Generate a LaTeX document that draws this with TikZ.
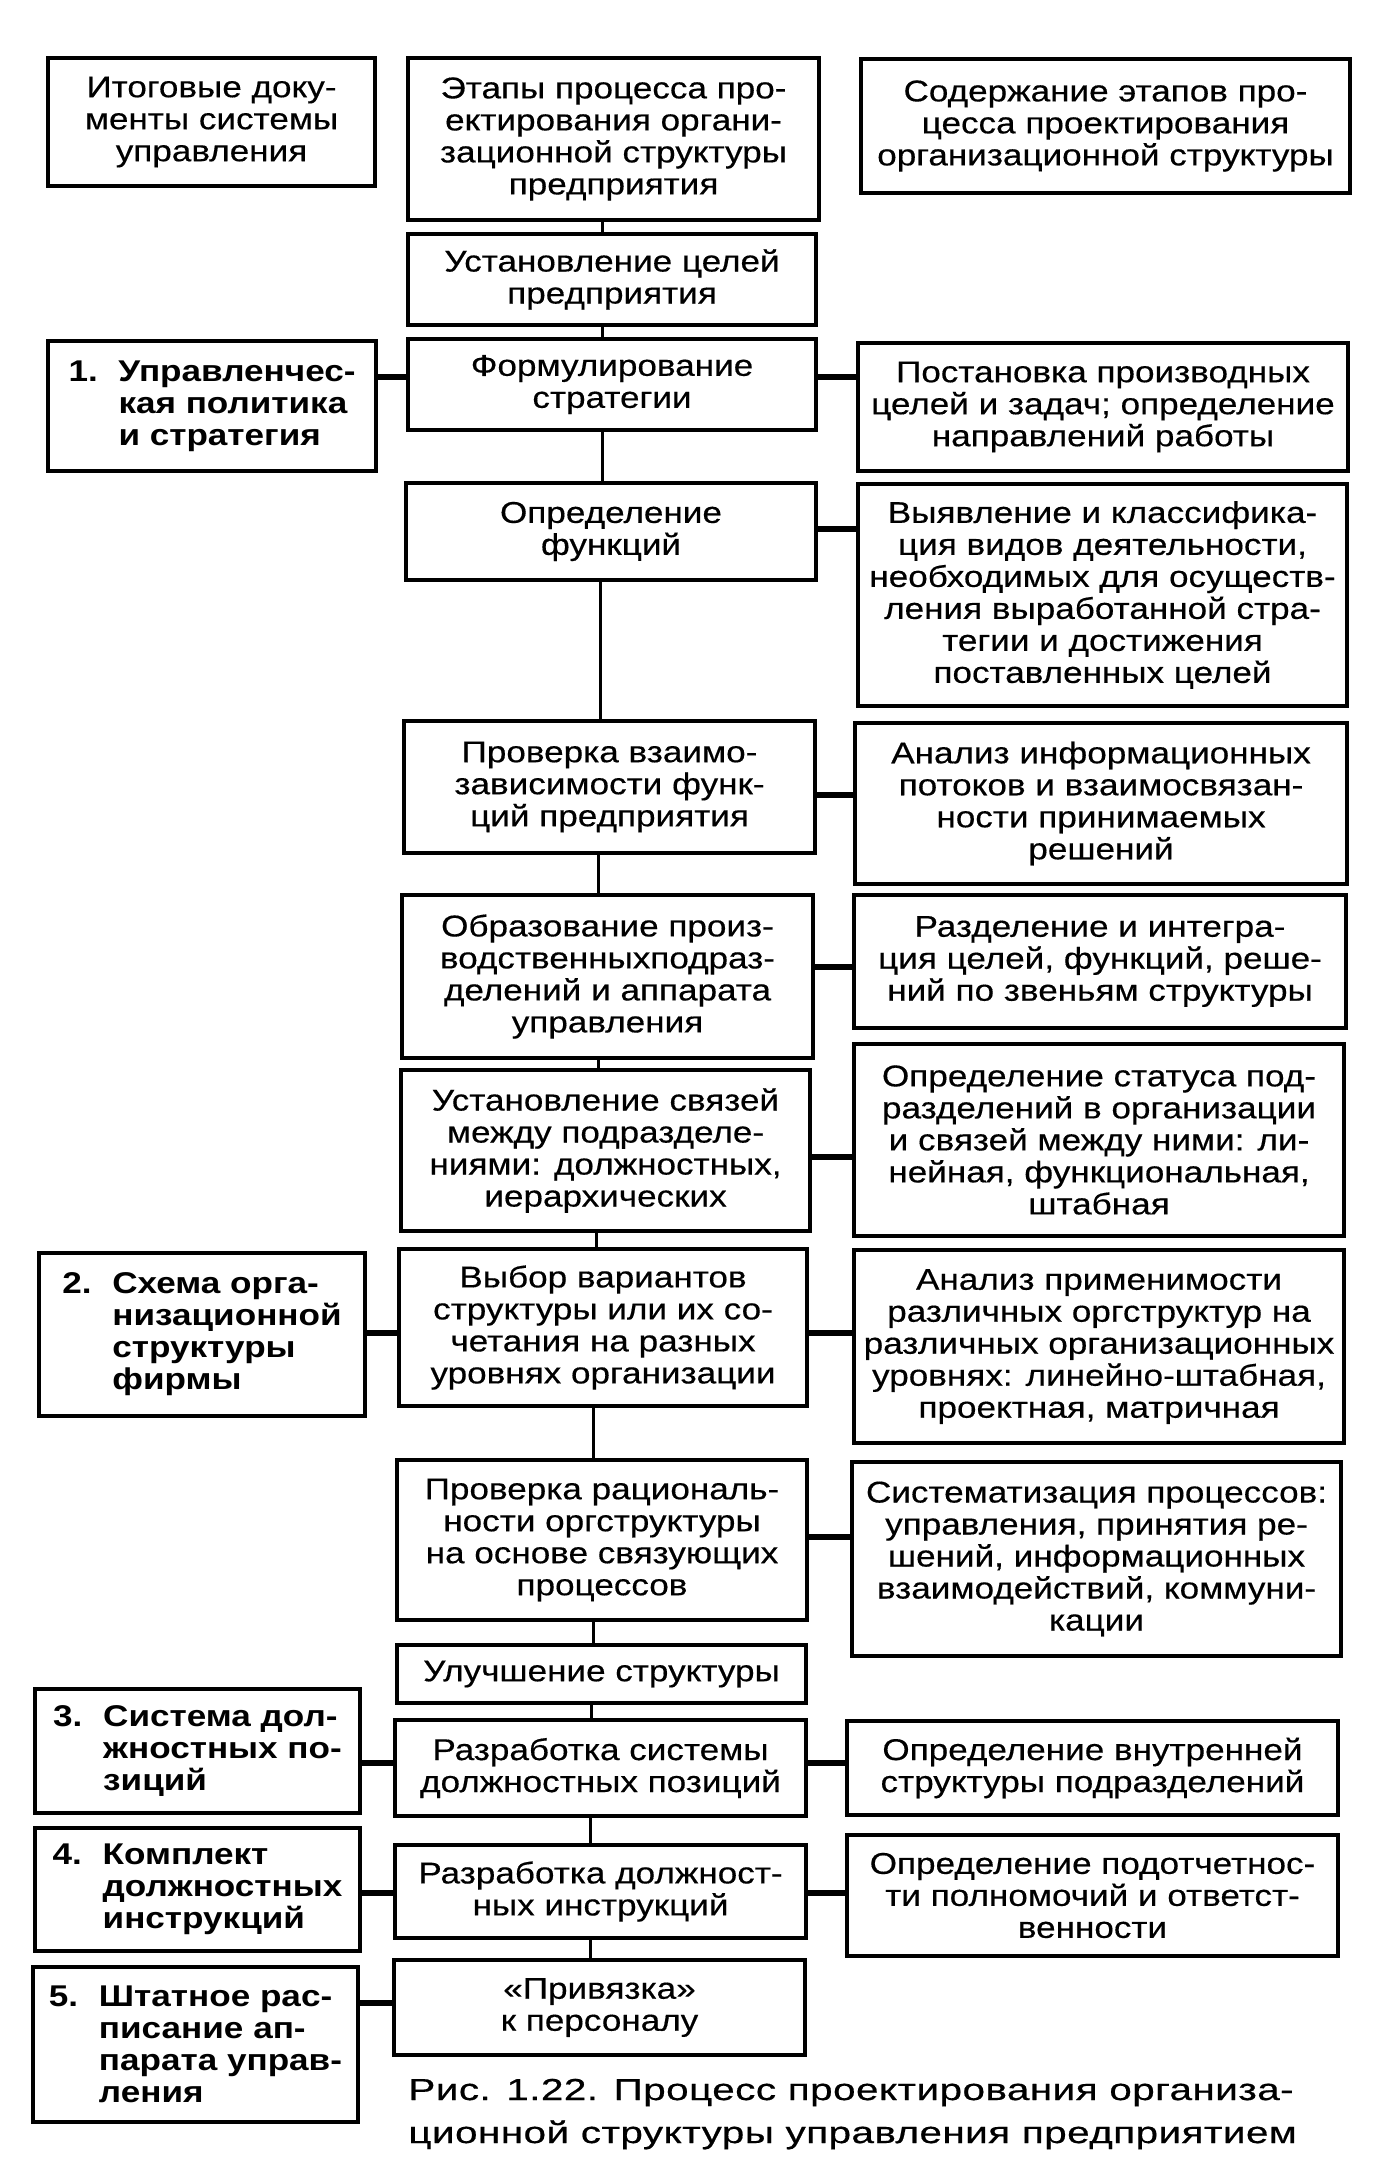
\documentclass[tikz,border=0pt]{standalone}
\usepackage{fontspec}
\setmainfont{Liberation Sans}[FakeStretch=1.17,UprightFeatures={FakeBold=0.4}]
\newfontfamily\capfont{Liberation Sans}[FakeStretch=1.33,LetterSpace=1.5,FakeBold=0.5]
\newcommand\mkbox[7][]{%
  \pgfmathsetmacro\bxw{(#5-#3)*0.5-2}%
  \pgfmathsetmacro\bxh{(#6-#4)*0.5-2}%
  \node[box,minimum width=\bxw pt,minimum height=\bxh pt,#1] (#2) at ({(#3+#5)/2},{(#4+#6)/2}) {#7};}
\newcommand\hd[1]{\makebox[25pt][l]{#1}}
\newcommand\hi{\hspace*{25pt}}
\begin{document}
\begin{tikzpicture}[x=0.5pt,y=-0.5pt,
  box/.style={draw=black,line width=2pt,inner sep=0pt,align=center,
    font={\fontsize{15pt}{16pt}\selectfont}},
  lbox/.style={box,align=left,font={\fontsize{15pt}{16pt}\selectfont\bfseries}},
  hconn/.style={draw=black,line width=3pt},
  vconn/.style={draw=black,line width=1.5pt}]
\fill[white] (0,0) rectangle (1375,2168);
\useasboundingbox (0,0) rectangle (1375,2168);

% left column
\mkbox{L0}{46}{56}{377}{188}{Итоговые доку-\\менты системы\\управления}
\mkbox[lbox]{L1}{46}{339}{378}{473}{\hd{1.}Управленчес-\\\hi кая политика\\\hi и стратегия}
\mkbox[lbox]{L2}{37}{1251}{367}{1418}{\hd{2.}Схема орга-\\\hi низационной\\\hi структуры\\\hi фирмы}
\mkbox[lbox]{L3}{33}{1687}{362}{1815}{\hd{3.}Система дол-\\\hi жностных по-\\\hi зиций}
\mkbox[lbox]{L4}{33}{1826}{362}{1953}{\hd{4.}Комплект\\\hi должностных\\\hi инструкций}
\mkbox[lbox]{L5}{31}{1965}{360}{2124}{\hd{5.}Штатное рас-\\\hi писание ап-\\\hi парата управ-\\\hi ления}

% center column
\mkbox{C0}{406}{56}{821}{222}{Этапы процесса про-\\ектирования органи-\\зационной структуры\\предприятия}
\mkbox{C1}{406}{232}{818}{327}{Установление целей\\предприятия}
\mkbox{C2}{406}{337}{818}{432}{Формулирование\\стратегии}
\mkbox{C3}{404}{481}{818}{582}{Определение\\функций}
\mkbox{C4}{402}{719}{817}{855}{Проверка взаимо-\\зависимости функ-\\ций предприятия}
\mkbox{C5}{400}{893}{815}{1060}{Образование произ-\\водственныхподраз-\\делений и аппарата\\управления}
\mkbox{C6}{399}{1068}{812}{1233}{Установление связей\\между подразделе-\\ниями: должностных,\\иерархических}
\mkbox{C7}{397}{1247}{809}{1408}{Выбор вариантов\\структуры или их со-\\четания на разных\\уровнях организации}
\mkbox{C8}{395}{1458}{809}{1622}{Проверка рациональ-\\ности оргструктуры\\на основе связующих\\процессов}
\mkbox{C9}{395}{1643}{808}{1705}{Улучшение структуры}
\mkbox{C10}{393}{1718}{808}{1818}{Разработка системы\\должностных позиций}
\mkbox{C11}{393}{1843}{808}{1940}{Разработка должност-\\ных инструкций}
\mkbox{C12}{392}{1958}{807}{2057}{«Привязка»\\к персоналу}

% right column
\mkbox{R0}{859}{57}{1352}{195}{Содержание этапов про-\\цесса проектирования\\организационной структуры}
\mkbox{R1}{856}{341}{1350}{473}{Постановка производных\\целей и задач; определение\\направлений работы}
\mkbox{R2}{856}{482}{1349}{708}{Выявление и классифика-\\ция видов деятельности,\\необходимых для осуществ-\\ления выработанной стра-\\тегии и достижения\\поставленных целей}
\mkbox{R3}{853}{721}{1349}{886}{Анализ информационных\\потоков и взаимосвязан-\\ности принимаемых\\решений}
\mkbox{R4}{852}{893}{1348}{1030}{Разделение и интегра-\\ция целей, функций, реше-\\ний по звеньям структуры}
\mkbox{R5}{852}{1042}{1346}{1238}{Определение статуса под-\\разделений в организации\\и связей между ними: ли-\\нейная, функциональная,\\штабная}
\mkbox{R6}{852}{1248}{1346}{1445}{Анализ применимости\\различных оргструктур на\\различных организационных\\уровнях: линейно-штабная,\\проектная, матричная}
\mkbox{R7}{850}{1460}{1343}{1658}{Систематизация процессов:\\управления, принятия ре-\\шений, информационных\\взаимодействий, коммуни-\\кации}
\mkbox{R8}{845}{1719}{1340}{1817}{Определение внутренней\\структуры подразделений}
\mkbox{R9}{845}{1833}{1340}{1958}{Определение подотчетнос-\\ти полномочий и ответст-\\венности}

% spine
\coordinate (sa) at (602,0);
\coordinate (sb) at (600,0);
\coordinate (sc) at (598,0);
\coordinate (sd) at (596,0);
\coordinate (se) at (593,0);
\coordinate (sf) at (591,0);
\coordinate (sg) at (590,0);
\draw[vconn] (C0.south -| sa) -- (C1.north -| sa);
\draw[vconn] (C1.south -| sa) -- (C2.north -| sa);
\draw[vconn] (C2.south -| sa) -- (C3.north -| sa);
\draw[vconn] (C3.south -| sb) -- (C4.north -| sb);
\draw[vconn] (C4.south -| sc) -- (C5.north -| sc);
\draw[vconn] (C5.south -| sc) -- (C6.north -| sc);
\draw[vconn] (C6.south -| sd) -- (C7.north -| sd);
\draw[vconn] (C7.south -| se) -- (C8.north -| se);
\draw[vconn] (C8.south -| se) -- (C9.north -| se);
\draw[vconn] (C9.south -| sf) -- (C10.north -| sf);
\draw[vconn] (C10.south -| sg) -- (C11.north -| sg);
\draw[vconn] (C11.south -| sg) -- (C12.north -| sg);

% horizontal connectors
\coordinate (h1) at (0,377);
\coordinate (h2) at (0,529);
\coordinate (h3) at (0,795);
\coordinate (h4) at (0,967);
\coordinate (h5) at (0,1157);
\coordinate (h6) at (0,1333);
\coordinate (h7) at (0,1537);
\coordinate (h8) at (0,1763);
\coordinate (h9) at (0,1893);
\coordinate (h10) at (0,2003);
\draw[hconn] (L1.east |- h1) -- (C2.west |- h1);
\draw[hconn] (C2.east |- h1) -- (R1.west |- h1);
\draw[hconn] (C3.east |- h2) -- (R2.west |- h2);
\draw[hconn] (C4.east |- h3) -- (R3.west |- h3);
\draw[hconn] (C5.east |- h4) -- (R4.west |- h4);
\draw[hconn] (C6.east |- h5) -- (R5.west |- h5);
\draw[hconn] (L2.east |- h6) -- (C7.west |- h6);
\draw[hconn] (C7.east |- h6) -- (R6.west |- h6);
\draw[hconn] (C8.east |- h7) -- (R7.west |- h7);
\draw[hconn] (L3.east |- h8) -- (C10.west |- h8);
\draw[hconn] (C10.east |- h8) -- (R8.west |- h8);
\draw[hconn] (L4.east |- h9) -- (C11.west |- h9);
\draw[hconn] (C11.east |- h9) -- (R9.west |- h9);
\draw[hconn] (L5.east |- h10) -- (C12.west |- h10);

% caption
\node[anchor=base west,inner sep=0pt,align=left,
  font={\capfont\fontsize{15.2pt}{21.5pt}\selectfont}] (cap) at (408,2143)
  {Рис. 1.22. Процесс проектирования организа-\\ционной структуры управления предприятием};
\end{tikzpicture}
\end{document}
